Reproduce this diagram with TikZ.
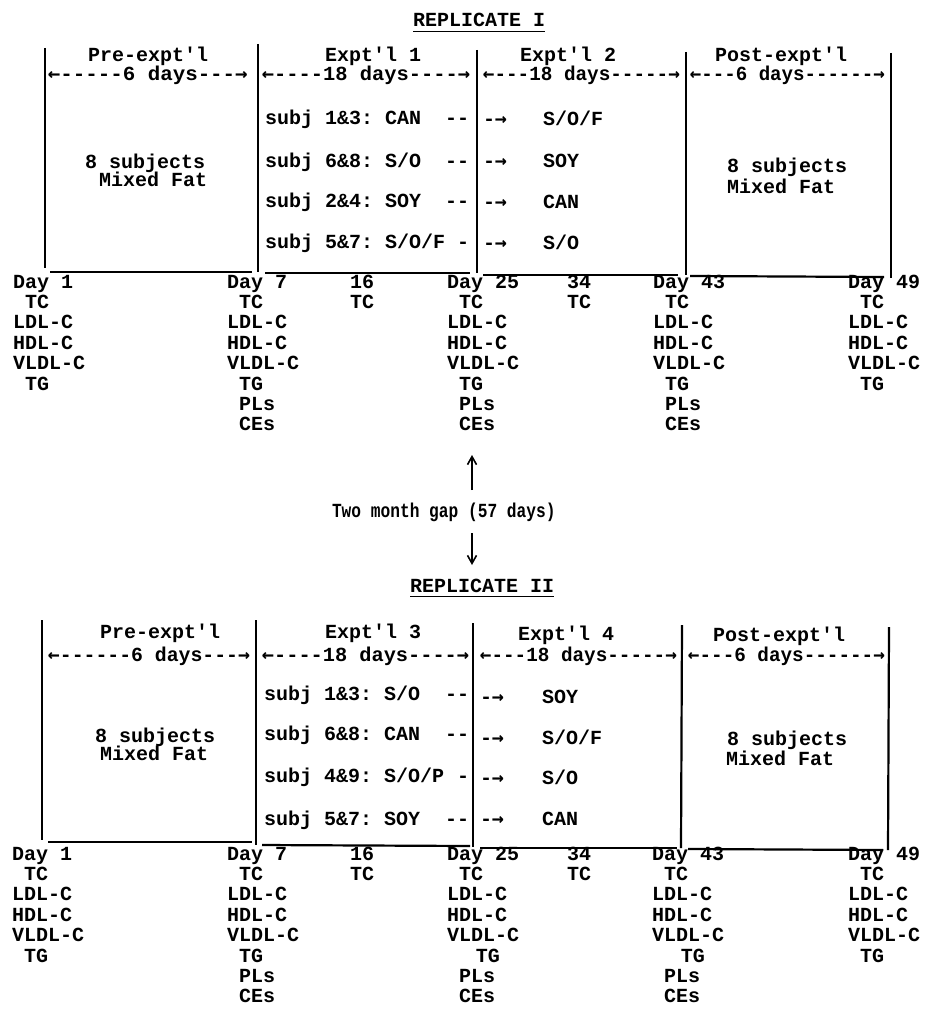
\documentclass[tikz,border=0pt]{standalone}
\usepackage{fontspec}
\usepackage{graphicx}
\setmonofont{Liberation Mono}
\newfontfamily\arrfont{DejaVu Sans Mono}
\usetikzlibrary{arrows.meta}
\newcommand{\tsp}{\hspace*{0.6em}}
\newcommand{\la}{\makebox[0.6em][c]{\arrfont ←}}
\newcommand{\ra}{\makebox[0.6em][c]{\arrfont →}}
\newcommand{\daycol}[4]{%
  \foreach \t [count=\i from 0] in {#4}
    \node[tw] (#1\i) at (#2,{#3+20.4*\i}) {\t};}
\begin{document}
\begin{tikzpicture}[x=0.5pt,y=-0.5pt,
  tw/.style={font=\ttfamily\bfseries\fontsize{10}{10.2}\selectfont,
             inner sep=0pt, outer sep=0pt, anchor=base west},
  rule/.style={line width=1.1pt},
  uline/.style={line width=0.6pt},
  garrow/.style={line width=0.8pt,-{Straight Barb[length=4pt,width=4.5pt]}}]
\useasboundingbox (0,0) rectangle (926,1011);

%% ---------------- REPLICATE I ----------------
\node[tw] (r1) at (413,27) {REPLICATE I};
\draw[uline] ([yshift=-2.2pt]r1.base west) -- ([yshift=-2.2pt]r1.base east);

\draw[rule] (45,48) -- (45,268);
\draw[rule] (258,44) -- (258,272);
\draw[rule] (477,50) -- (477,273);
\draw[rule] (686,52) -- (686,275);
\draw[rule] (891,53) -- (891,278);
\draw[rule] (50,272) -- (252,272);
\draw[rule] (265,273) -- (470,273);
\draw[rule] (483,275) -- (678,275);
\draw[rule] (690,276) -- (884,277);

\node[tw] (h1a) at (88,62)  {Pre-expt'l};
\node[tw] (h1b) at (325,62) {Expt'l 1};
\node[tw] (h1c) at (520,62) {Expt'l 2};
\node[tw] (h1d) at (715,62) {Post-expt'l};
\node[tw] (d1a) at (48,81)  {\scalebox{1.04}[1]{\la-----6 days---\ra}};
\node[tw] (d1b) at (262,81) {\scalebox{1.02}[1]{\la----18 days----\ra}};
\node[tw] (d1c) at (483,81) {\scalebox{0.965}[1]{\la---18 days-----\ra}};
\node[tw] (d1d) at (690,81) {\scalebox{0.955}[1]{\la---6 days------\ra}};

\node[tw] (m1a) at (85,168) {8 subjects};
\node[tw] (m1b) at (99,186) {Mixed Fat};
\node[tw] (m1c) at (727,172) {8 subjects};
\node[tw] (m1d) at (727,193) {Mixed Fat};

\node[tw] (s11) at (265,125)   {subj 1\&3: CAN};
\node[tw] (s12) at (265,167)   {subj 6\&8: S/O};
\node[tw] (s13) at (265,207.5) {subj 2\&4: SOY};
\node[tw] (s14) at (265,248)   {subj 5\&7: S/O/F};
\node[tw] (e11) at (445,125)   {--};
\node[tw] (e12) at (445,167)   {--};
\node[tw] (e13) at (445,207.5) {--};
\node[tw] (e14) at (457,248)   {-};
\node[tw] (a11) at (483,126) {-\ra};
\node[tw] (a12) at (483,167) {-\ra};
\node[tw] (a13) at (483,208) {-\ra};
\node[tw] (a14) at (483,249) {-\ra};
\node[tw] (f11) at (543,126) {S/O/F};
\node[tw] (f12) at (543,167) {SOY};
\node[tw] (f13) at (543,208) {CAN};
\node[tw] (f14) at (543,249) {S/O};

\daycol{tA}{13}{288}{Day 1,\tsp TC,LDL-C,HDL-C,VLDL-C,\tsp TG}
\daycol{tB}{227}{288}{Day 7,\tsp TC,LDL-C,HDL-C,VLDL-C,\tsp TG,\tsp PLs,\tsp CEs}
\daycol{tX}{350}{288}{16,TC}
\daycol{tC}{447}{288}{Day 25,\tsp TC,LDL-C,HDL-C,VLDL-C,\tsp TG,\tsp PLs,\tsp CEs}
\daycol{tY}{567}{288}{34,TC}
\daycol{tD}{653}{288}{Day 43,\tsp TC,LDL-C,HDL-C,VLDL-C,\tsp TG,\tsp PLs,\tsp CEs}
\daycol{tE}{848}{288}{Day 49,\tsp TC,LDL-C,HDL-C,VLDL-C,\tsp TG}

%% ---------------- gap ----------------
\node[tw] (gap) at (332,517) {\scalebox{0.81}[1]{Two month gap (57 days)}};
\coordinate (upT) at (472,455);
\coordinate (upB) at (472,490);
\coordinate (dnT) at (472,533);
\coordinate (dnB) at (472,565);
\draw[garrow] (upB) -- (upT);
\draw[garrow] (dnT) -- (dnB);

%% ---------------- REPLICATE II ----------------
\node[tw] (r2) at (410,592) {REPLICATE II};
\draw[uline] ([yshift=-2.2pt]r2.base west) -- ([yshift=-2.2pt]r2.base east);

\draw[rule] (42,620) -- (42,840);
\draw[rule] (256,620) -- (256,845);
\draw[rule] (473,623) -- (473,847);
\draw[rule] (682,625) -- (681,848);
\draw[rule] (889,627) -- (888,850);
\draw[rule] (48,842) -- (252,842);
\draw[rule] (262,845) -- (470,846);
\draw[rule] (480,848) -- (677,848);
\draw[rule] (688,849) -- (883,850);

\node[tw] (h2a) at (100,638) {Pre-expt'l};
\node[tw] (h2b) at (325,638) {Expt'l 3};
\node[tw] (h2c) at (518,640) {Expt'l 4};
\node[tw] (h2d) at (713,641) {Post-expt'l};
\node[tw] (d2a) at (48,661)  {\scalebox{0.99}[1]{\la------6 days---\ra}};
\node[tw] (d2b) at (262,661) {\scalebox{1.015}[1]{\la----18 days----\ra}};
\node[tw] (d2c) at (480,661) {\scalebox{0.965}[1]{\la---18 days-----\ra}};
\node[tw] (d2d) at (688,661) {\scalebox{0.965}[1]{\la---6 days------\ra}};

\node[tw] (m2a) at (95,742)  {8 subjects};
\node[tw] (m2b) at (100,760) {Mixed Fat};
\node[tw] (m2c) at (727,745) {8 subjects};
\node[tw] (m2d) at (726,765) {Mixed Fat};

\node[tw] (s21) at (264,700) {subj 1\&3: S/O};
\node[tw] (s22) at (264,740) {subj 6\&8: CAN};
\node[tw] (s23) at (264,782) {subj 4\&9: S/O/P};
\node[tw] (s24) at (264,825) {subj 5\&7: SOY};
\node[tw] (e21) at (445,700) {--};
\node[tw] (e22) at (445,740) {--};
\node[tw] (e23) at (457,782) {-};
\node[tw] (e24) at (445,825) {--};
\node[tw] (a21) at (480,703) {-\ra};
\node[tw] (a22) at (480,744) {-\ra};
\node[tw] (a23) at (480,784) {-\ra};
\node[tw] (a24) at (480,825) {-\ra};
\node[tw] (f21) at (542,703) {SOY};
\node[tw] (f22) at (542,744) {S/O/F};
\node[tw] (f23) at (542,784) {S/O};
\node[tw] (f24) at (542,825) {CAN};

\daycol{bA}{12}{860}{Day 1,\tsp TC,LDL-C,HDL-C,VLDL-C,\tsp TG}
\daycol{bB}{227}{860}{Day 7,\tsp TC,LDL-C,HDL-C,VLDL-C,\tsp TG,\tsp PLs,\tsp CEs}
\daycol{bX}{350}{860}{16,TC}
\daycol{bC}{447}{860}{Day 25,\tsp TC,LDL-C,HDL-C,VLDL-C,\hspace*{1.6ex}\tsp TG,\tsp PLs,\tsp CEs}
\daycol{bY}{567}{860}{34,TC}
\daycol{bD}{652}{860}{Day 43,\tsp TC,LDL-C,HDL-C,VLDL-C,\hspace*{1.6ex}\tsp TG,\tsp PLs,\tsp CEs}
\daycol{bE}{848}{860}{Day 49,\tsp TC,LDL-C,HDL-C,VLDL-C,\tsp TG}
\end{tikzpicture}
\end{document}
